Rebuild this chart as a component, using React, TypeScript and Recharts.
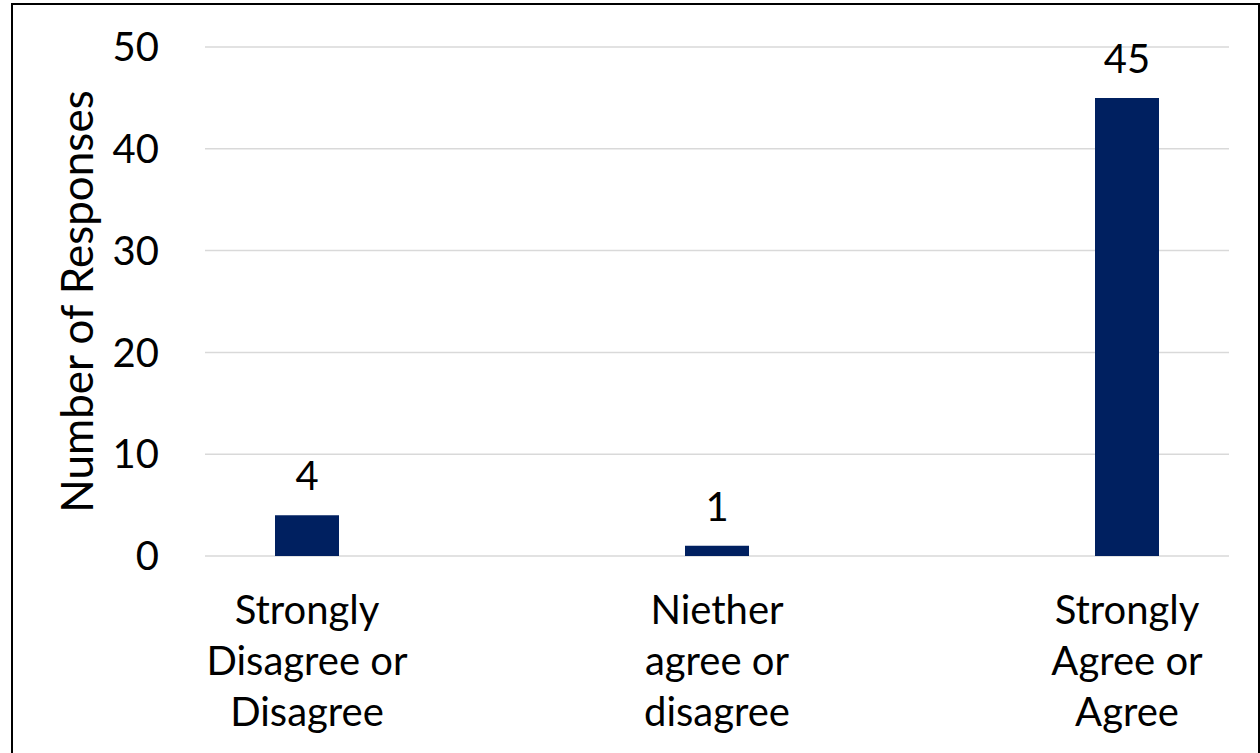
import React from "react";
import { BarChart, Bar, XAxis, YAxis, CartesianGrid, LabelList } from "recharts";

const categories = [
  "Strongly Disagree or Disagree",
  "Niether agree or disagree",
  "Strongly Agree or Agree",
];
const responses = [4, 1, 45];
const tickLines = [
  ["Strongly", "Disagree or", "Disagree"],
  ["Niether", "agree or", "disagree"],
  ["Strongly", "Agree or", "Agree"],
];
const yTicks = [0, 10, 20, 30, 40, 50];

const FONT = "Lato, 'Open Sans', sans-serif";
const FS = 40;

const data = categories.map((c, i) => ({ name: c, value: responses[i] }));

const XTick = (props: any) => {
  const { x, y, payload } = props;
  const idx = categories.indexOf(payload.value);
  const lines = tickLines[idx] || [payload.value];
  return (
    <text x={x} y={y} textAnchor="middle" fill="#000" fontSize={FS} fontFamily={FONT}>
      {lines.map((l, i) => (
        <tspan key={i} x={x} dy={i === 0 ? 60 : 51}>
          {l}
        </tspan>
      ))}
    </text>
  );
};

export default function App() {
  return (
    <div
      style={{
        position: "absolute",
        left: 0,
        top: 0,
        width: 1260,
        height: 753,
        overflow: "hidden",
        background: "#fff",
      }}
    >
      <div
        style={{
          position: "absolute",
          left: 11,
          top: 3,
          width: 1245,
          height: 800,
          border: "2px solid #000",
        }}
      />
      <div style={{ position: "absolute", left: 0, top: 0 }}>
        <BarChart
          width={1260}
          height={753}
          data={data}
          margin={{ top: 47, right: 31, bottom: 0, left: 0 }}
        >
          <CartesianGrid vertical={false} stroke="#d9d9d9" strokeWidth={1.5} />
          <XAxis
            dataKey="name"
            height={197}
            axisLine={false}
            tickLine={false}
            interval={0}
            padding={{ left: -103, right: -103 }}
            tick={<XTick />}
          />
          <YAxis
            width={205}
            domain={[0, 50]}
            ticks={yTicks}
            axisLine={false}
            tickLine={false}
            tickMargin={40}
            tick={{ fill: "#000", fontSize: FS, fontFamily: FONT }}
            label={{
              value: "Number of Responses",
              angle: -90,
              position: "insideLeft",
              offset: 77,
              fill: "#000",
              fontSize: 44,
              fontFamily: FONT,
              style: { textAnchor: "middle" },
            }}
          />
          <Bar dataKey="value" fill="#002060" barSize={64} isAnimationActive={false}>
            <LabelList
              dataKey="value"
              position="top"
              offset={25}
              fill="#000"
              fontSize={FS}
              fontFamily={FONT}
            />
          </Bar>
        </BarChart>
      </div>
    </div>
  );
}
